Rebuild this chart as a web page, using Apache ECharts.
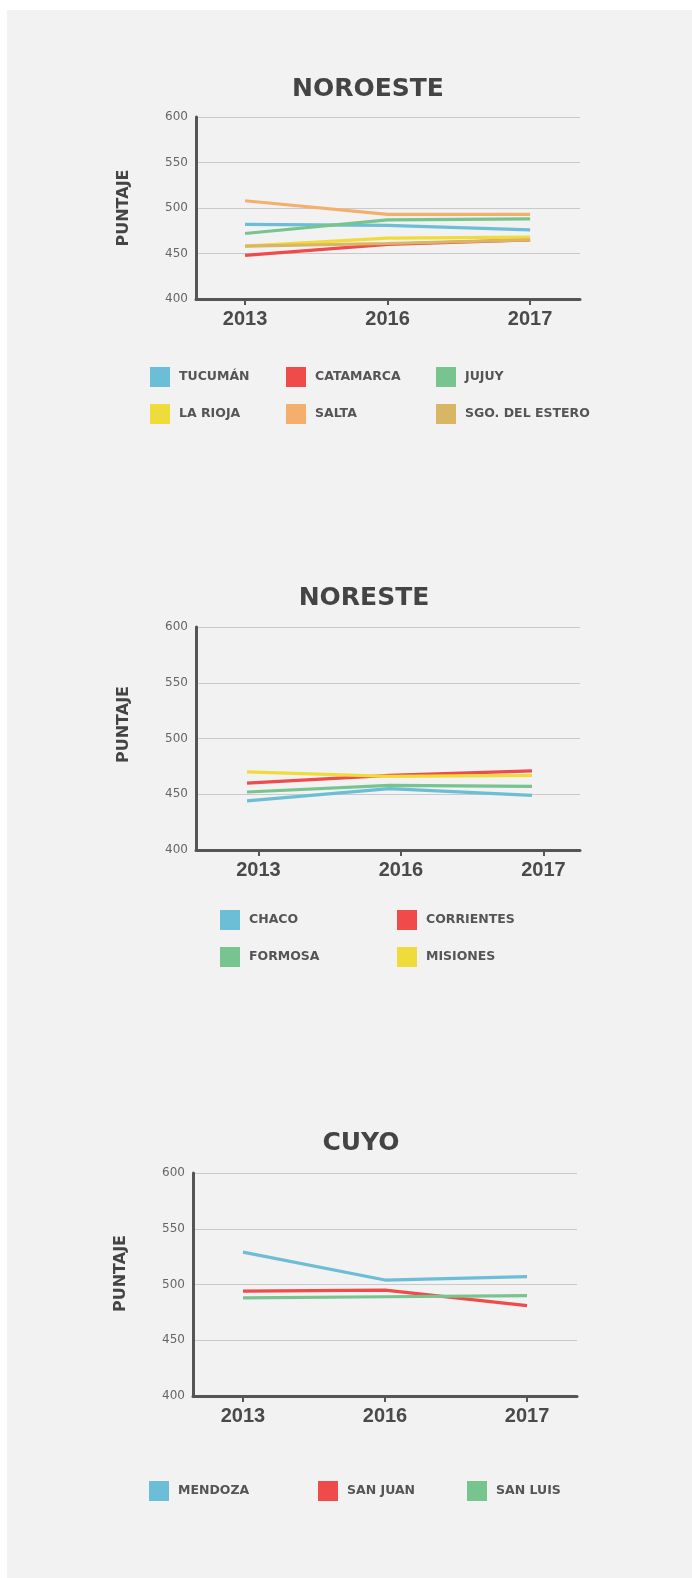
<!DOCTYPE html>
<html><head><meta charset="utf-8">
<script src="https://cdn.jsdelivr.net/npm/echarts@6/dist/echarts.min.js"></script>
<style>html,body{margin:0;padding:0;background:#fff}#c{width:692px;height:1578px}</style>
</head><body><div id="c"></div><script>
// ---- data ----
const years = ['2013', '2016', '2017'];
const yTicks = [400, 450, 500, 550, 600];
const yName = 'PUNTAJE';

const noroesteTitle = 'NOROESTE';
const noroesteNames = ['TUCUMÁN', 'CATAMARCA', 'JUJUY', 'LA RIOJA', 'SALTA', 'SGO. DEL ESTERO'];
const tucuman = [482, 481, 476];
const catamarca = [448, 460, 465];
const jujuy = [472, 487, 488];
const laRioja = [458, 467, 468];
const salta = [508, 493, 493];
const sgoDelEstero = [458, 461, 465];

const noresteTitle = 'NORESTE';
const noresteNames = ['CHACO', 'CORRIENTES', 'FORMOSA', 'MISIONES'];
const chaco = [444, 455, 449];
const corrientes = [460, 467, 471];
const formosa = [452, 458, 457];
const misiones = [470, 466, 467];

const cuyoTitle = 'CUYO';
const cuyoNames = ['MENDOZA', 'SAN JUAN', 'SAN LUIS'];
const mendoza = [529, 504, 507];
const sanJuan = [494, 495, 481];
const sanLuis = [488, 489, 490];

// ---- styles / layout ----
const C = {blue:'#6cbdd6', red:'#ef4b4b', green:'#78c48f', yellow:'#efdc3b', orange:'#f5af6c', tan:'#d9b566'};
const panels = [
  {title: noroesteTitle, tx: 368, ty: 88,
   grid: {left:196, top:117, width:384, height:182}, xmin:-0.344, xmax:2.35, tickOff:0, nameShift:0,
   names: noroesteNames, values:[tucuman,catamarca,jujuy,laRioja,salta,sgoDelEstero],
   colors:[C.blue,C.red,C.green,C.yellow,C.orange,C.tan],
   legends:[{left:150, top:367, idx:[0,3]},{left:286, top:367, idx:[1,4]},{left:436, top:367, idx:[2,5]}]},
  {title: noresteTitle, tx: 364, ty: 597,
   grid: {left:196, top:627, width:384, height:223}, xmin:-0.358, xmax:2.337, tickOff:0.08, nameShift:28,
   names: noresteNames, values:[chaco,corrientes,formosa,misiones],
   colors:[C.blue,C.red,C.green,C.yellow],
   legends:[{left:220, top:910, idx:[0,2]},{left:397, top:910, idx:[1,3]}]},
  {title: cuyoTitle, tx: 361, ty: 1142,
   grid: {left:193, top:1173, width:384, height:223}, xmin:-0.352, xmax:2.352, tickOff:0, nameShift:22,
   names: cuyoNames, values:[mendoza,sanJuan,sanLuis],
   colors:[C.blue,C.red,C.green],
   legends:[{left:149, top:1481, idx:[0]},{left:318, top:1481, idx:[1]},{left:467, top:1481, idx:[2]}]}
];

const option = {
  animation: false,
  backgroundColor: '#ffffff',
  graphic: [{type:'rect', z:-10, shape:{x:7, y:10, width:685, height:1568}, style:{fill:'#f2f2f2'}}],
  title: [], grid: [], xAxis: [], yAxis: [], legend: [], series: []
};

panels.forEach((p, i) => {
  option.title.push({text: p.title, left: p.tx, top: p.ty - 11, textAlign: 'center', padding: 0,
    textStyle: {fontFamily:'DejaVu Sans', fontWeight:'bold', fontSize:25, color:'#444'}});
  option.grid.push(Object.assign({containLabel:false}, p.grid));
  const cv = years.map((_, j) => j + p.tickOff);
  option.xAxis.push({type:'value', gridIndex:i, min:p.xmin, max:p.xmax,
    axisLine:{show:true, onZero:false, lineStyle:{color:'#555', width:3}},
    axisTick:{show:true, customValues:cv, length:6, lineStyle:{color:'#555', width:2}},
    axisLabel:{customValues:cv, margin:10, formatter: v => years[Math.round(v - p.tickOff)],
      fontFamily:'Liberation Sans', fontWeight:'bold', fontSize:20, color:'#4a4a4a'},
    splitLine:{show:false}});
  option.yAxis.push({type:'value', gridIndex:i, min:yTicks[0], max:yTicks[yTicks.length-1], interval:yTicks[1]-yTicks[0],
    name: yName, nameLocation:'middle', nameRotate:90, nameGap:64,
    nameTextStyle:{fontFamily:'DejaVu Sans', fontWeight:'bold', fontSize:16, color:'#444', padding:[0,0,0,p.nameShift]},
    axisLine:{show:true, onZero:false, lineStyle:{color:'#555', width:3}},
    axisTick:{show:false},
    axisLabel:{margin:8, fontFamily:'DejaVu Sans', fontSize:12, color:'#666'},
    splitLine:{show:true, lineStyle:{color:'#c9c9c9', width:1.2}}});
  p.names.forEach((n, k) => {
    option.series.push({name:n, type:'line', xAxisIndex:i, yAxisIndex:i, showSymbol:false, symbol:'none',
      data: p.values[k].map((v, j) => [j, v]),
      color: p.colors[k], lineStyle:{width:3.2, color:p.colors[k]}, z: 2});
  });
  p.legends.forEach(l => {
    option.legend.push({orient:'vertical', left:l.left, top:l.top, padding:0, itemGap:17, itemWidth:20, itemHeight:20,
      icon:'rect', data: l.idx.map(k => p.names[k]),
      textStyle:{fontFamily:'DejaVu Sans', fontWeight:'bold', fontSize:12.5, color:'#555', padding:[0,0,0,4]}});
  });
});

const chart = echarts.init(document.getElementById('c'), null, {renderer:'canvas'});
chart.setOption(option);
</script></body></html>
